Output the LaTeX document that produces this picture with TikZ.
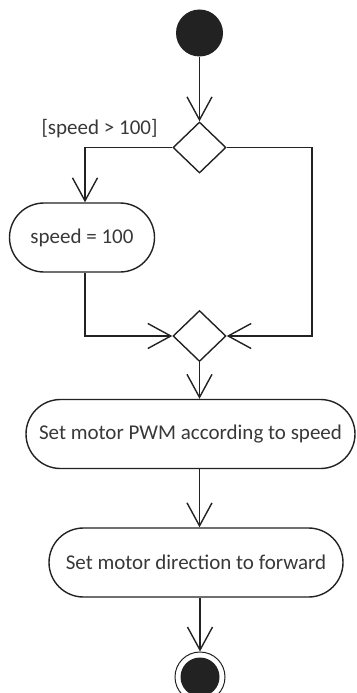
\documentclass[tikz,border=0pt]{standalone}
\usepackage{fontspec}
\setmainfont{Carlito}
\usetikzlibrary{arrows.meta,shapes.geometric}
\definecolor{linecol}{HTML}{222222}
\definecolor{textcol}{HTML}{383838}
\begin{document}
\begin{tikzpicture}[x=1pt,y=-1pt,
  every node/.style={font=\fontsize{21}{24}\selectfont, text=textcol},
  flow/.style={draw=linecol, line width=1.5pt, -{Straight Barb[length=23pt,width=25pt,line width=1.4pt]}},
  activity/.style={draw=linecol, line width=1.4pt, rectangle, rounded corners=34.5pt,
    minimum height=69pt, inner sep=0pt},
  branch/.style={draw=linecol, line width=1.4pt, diamond, aspect=1, inner sep=0pt,
    minimum width=53pt, minimum height=51pt},
  initial/.style={circle, fill=linecol, inner sep=0pt, minimum size=47pt},
  final/.style={circle, draw=linecol, line width=1pt, inner sep=0pt, minimum size=50pt}]
\useasboundingbox (0,0) rectangle (356,693);

% nodes
\node[initial] (start) at (199.5,33) {};
\node[branch] (dec) at (199.5,147.5) {};
\node (guard) at (99.5,129) {[speed > 100]};
\node[activity, minimum width=145pt] (s100) at (82,237.5) {speed = 100};
\node[branch] (merge) at (199.5,336) {};
\node[activity, minimum width=329pt] (act1) at (190.5,434) {Set motor PWM according to speed};
\node[activity, minimum width=294pt] (act2) at (196,562.5) {Set motor direction to forward};
\node[final] (end) at (200,677) {};
\fill[linecol] (end.center) circle (19.5pt);

\coordinate (rc) at (312,147.5);
\coordinate (lc) at (85,0);

% connectors
\draw[flow] (start) -- (dec.north);
\draw[flow] (dec.west) -| (s100.north -| lc);
\draw[flow] (s100.south -| lc) |- (merge.west);
\draw[flow] (dec.east) -- (rc) |- (merge.east);
\draw[flow] (merge.south) -- (merge.south |- act1.north);
\draw[flow] (act1.south -| merge.south) -- (act2.north -| merge.south);
\draw[flow] (act2.south -| end.north) -- (end.north);
\end{tikzpicture}
\end{document}
